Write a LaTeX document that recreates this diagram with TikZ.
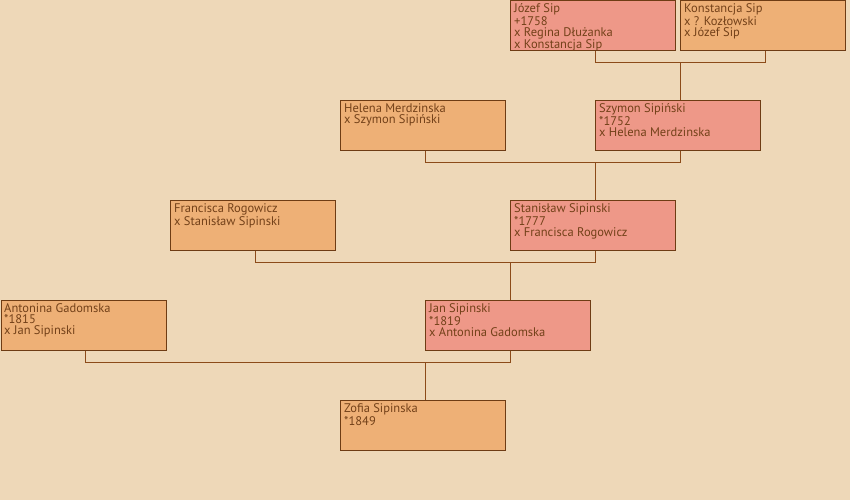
\documentclass[tikz,border=0pt]{standalone}
\usepackage{fontspec}
\setmainfont{PT Sans}
\definecolor{bgc}{RGB}{238,216,184}
\definecolor{fem}{RGB}{238,176,118}
\definecolor{mal}{RGB}{238,152,136}
\definecolor{edge}{RGB}{110,60,20}
\definecolor{txt}{RGB}{115,65,25}
\definecolor{lnc}{RGB}{140,75,25}
\tikzset{
  person/.style={draw=edge, line width=1pt, minimum width=165pt, minimum height=50pt, anchor=north west, inner sep=0pt},
  lbl/.style={anchor=north west, align=left, text=txt, font=\fontsize{12.5}{11}\selectfont, inner sep=0pt},
  link/.style={draw=lnc, line width=1pt}
}
\begin{document}
\begin{tikzpicture}[x=1pt,y=-1pt]
\fill[bgc] (0,0) rectangle (850,500);
\useasboundingbox (0,0) rectangle (850,500);
% boxes
\node[person, fill=mal] (jozef) at (510,0.5) {};
\node[person, fill=fem] (konst) at (680,0.5) {};
\node[person, fill=fem] (helena) at (340,100) {};
\node[person, fill=mal] (szymon) at (595,100) {};
\node[person, fill=fem] (franc) at (170,200) {};
\node[person, fill=mal] (stan) at (510,200) {};
\node[person, fill=fem] (anton) at (0.5,300) {};
\node[person, fill=mal] (jan) at (425,300) {};
\node[person, fill=fem] (zofia) at (340,400) {};
% labels
\node[lbl] (tjozef) at (514,3.5) {Józef Sip\\+1758\\x Regina Dłużanka\\x Konstancja Sip};
\node[lbl] (tkonst) at (684,3.5) {Konstancja Sip\\x ? Kozłowski\\x Józef Sip};
\node[lbl] (thelena) at (344,103.5) {Helena Merdzinska\\x Szymon Sipiński};
\node[lbl] (tszymon) at (599,103.5) {Szymon Sipiński\\*1752\\x Helena Merdzinska};
\node[lbl] (tfranc) at (174,203.5) {Francisca Rogowicz\\x Stanisław Sipinski};
\node[lbl] (tstan) at (514,203.5) {Stanisław Sipinski\\*1777\\x Francisca Rogowicz};
\node[lbl] (tanton) at (4,303.5) {Antonina Gadomska\\*1815\\x Jan Sipinski};
\node[lbl] (tjan) at (429,303.5) {Jan Sipinski\\*1819\\x Antonina Gadomska};
\node[lbl] (tzofia) at (344,403.5) {Zofia Sipinska\\*1849};
% connectors
\coordinate (j1) at (595.5,62.5);
\coordinate (j2) at (765.5,62.5);
\coordinate (j3) at (680.5,62.5);
\draw[link] (jozef.south west -| j1) -- (j1) -- (j2) -- (konst.south west -| j2);
\draw[link] (j3) -- (szymon.north west -| j3);
\coordinate (s1) at (425.5,162.5);
\coordinate (s2) at (680.5,162.5);
\coordinate (s3) at (595.5,162.5);
\draw[link] (helena.south west -| s1) -- (s1) -- (s2) -- (szymon.south west -| s2);
\draw[link] (s3) -- (stan.north west -| s3);
\coordinate (f1) at (255.5,262.5);
\coordinate (f2) at (595.5,262.5);
\coordinate (f3) at (510.5,262.5);
\draw[link] (franc.south west -| f1) -- (f1) -- (f2) -- (stan.south west -| f2);
\draw[link] (f3) -- (jan.north west -| f3);
\coordinate (a1) at (85.5,362.5);
\coordinate (a2) at (510.5,362.5);
\coordinate (a3) at (425.5,362.5);
\draw[link] (anton.south west -| a1) -- (a1) -- (a2) -- (jan.south west -| a2);
\draw[link] (a3) -- (zofia.north west -| a3);
\end{tikzpicture}
\end{document}
